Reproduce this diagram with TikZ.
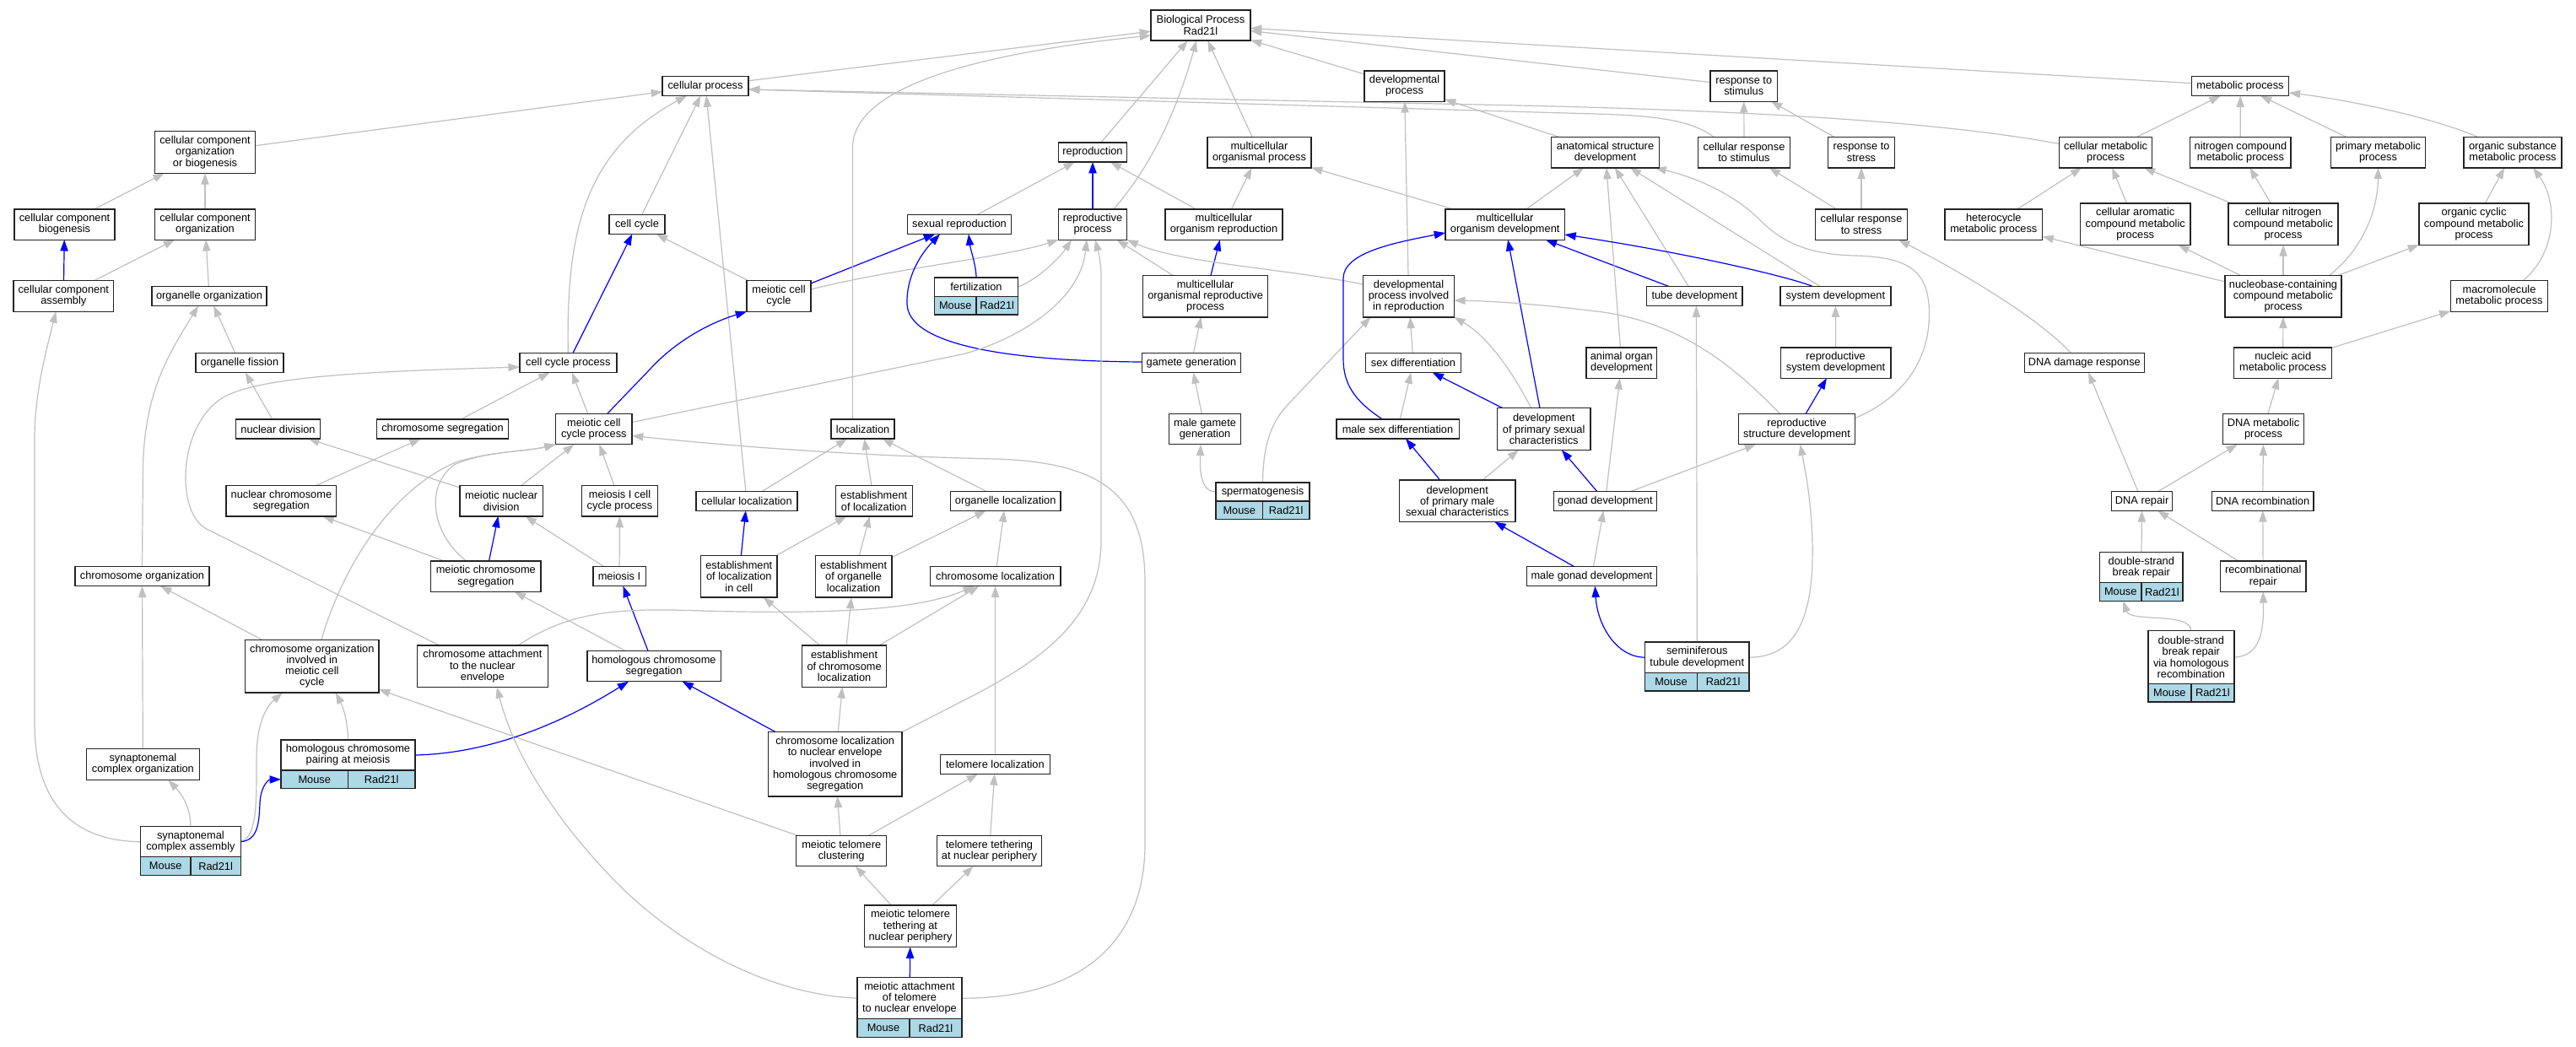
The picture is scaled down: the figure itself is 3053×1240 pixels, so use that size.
\documentclass[tikz,border=0pt]{standalone}
\usepackage{fontspec}
\setmainfont{Liberation Sans}
\usetikzlibrary{arrows.meta,backgrounds}
\definecolor{edgegray}{RGB}{192,192,192}
\definecolor{labblue}{RGB}{173,216,230}
\definecolor{bordc}{RGB}{35,35,35}
\tikzset{
  gobox/.style={draw=bordc, line width=1.4pt, fill=white, inner sep=0pt, outer sep=0pt, align=center, font=\fontsize{12.8}{13.3}\selectfont},
  labcell/.style={draw=bordc, line width=1.4pt, fill=labblue, inner sep=0pt, outer sep=0pt, minimum height=21.6pt, font=\fontsize{12.8}{13.3}\selectfont},
  isa/.style={draw=edgegray, line width=1.2pt, -{Triangle[length=13.3pt,width=9.3pt]}},
  partof/.style={draw=blue, line width=1.2pt, -{Triangle[length=13.3pt,width=9.3pt]}},
}
\newcommand{\GOn}[6]{\node[gobox, minimum width=#4pt, minimum height=#5pt] (#1) at (#2,#3) {#6};}
\newcommand{\GOlab}[2]{\node[labcell, anchor=north west, minimum width=#2pt] (#1M) at (#1.south west) {Mouse};\node[labcell, anchor=north east, minimum width=#2pt] (#1R) at (#1.south east) {Rad21l};}
\begin{document}
\begin{tikzpicture}[x=1pt,y=-1pt]
\useasboundingbox (0,0) rectangle (3053,1240);
\GOn{bp}{1423}{30}{118}{36}{Biological Process\\Rad21l}
\GOn{cp}{836}{102}{102}{23}{cellular process}
\GOn{dp}{1664.5}{102}{95}{36.4}{developmental\\process}
\GOn{rs}{2066.7}{102}{79.4}{36.4}{response to\\stimulus}
\GOn{mp}{2655}{102}{115.5}{23}{metabolic process}
\GOn{ccob}{243}{180.5}{118.5}{49.6}{cellular component\\organization\\or biogenesis}
\GOn{rep}{1295}{180.5}{81}{23}{reproduction}
\GOn{mop}{1492.5}{180.5}{123}{36.6}{multicellular\\organismal process}
\GOn{asd}{1902.5}{180.5}{127.7}{36.6}{anatomical structure\\development}
\GOn{crs}{2067}{180.5}{108.5}{36.6}{cellular response\\to stimulus}
\GOn{rstress}{2206}{180.5}{79}{36.6}{response to\\stress}
\GOn{cmp}{2495.6}{180.5}{110}{36.6}{cellular metabolic\\process}
\GOn{ncmp}{2655.4}{180.5}{119.3}{36.6}{nitrogen compound\\metabolic process}
\GOn{pmp}{2818.5}{180.5}{112.4}{36.6}{primary metabolic\\process}
\GOn{osmp}{2978}{180.5}{116}{36.6}{organic substance\\metabolic process}
\GOn{ccb}{76.5}{266}{119}{36.4}{cellular component\\biogenesis}
\GOn{cco}{243}{266}{118.5}{36.4}{cellular component\\organization}
\GOn{cc}{755}{266}{66}{23}{cell cycle}
\GOn{sr}{1137}{266}{123}{23}{sexual reproduction}
\GOn{rp}{1295}{266}{81}{36.4}{reproductive\\process}
\GOn{mor}{1450.5}{266}{139}{36.4}{multicellular\\organism reproduction}
\GOn{mod}{1783.7}{266}{141.4}{36.4}{multicellular\\organism development}
\GOn{crstress}{2206}{266}{108.5}{36.4}{cellular response\\to stress}
\GOn{het}{2362.8}{266}{115.4}{36.4}{heterocycle\\metabolic process}
\GOn{cacmp}{2530.7}{265.7}{130.2}{49.4}{cellular aromatic\\compound metabolic\\process}
\GOn{cncmp}{2706}{265.7}{130}{49.4}{cellular nitrogen\\compound metabolic\\process}
\GOn{occmp}{2932}{265.7}{130}{49.4}{organic cyclic\\compound metabolic\\process}
\GOn{cca}{75.3}{351}{118.6}{36.6}{cellular component\\assembly}
\GOn{oo}{248}{351}{136}{23}{organelle organization}
\GOn{mcc}{923}{351}{76}{36.6}{meiotic cell\\cycle}
\GOn{fert}{1157}{340.2}{99}{22.3}{fertilization}
\GOlab{fert}{49.5}
\GOn{morp}{1428.6}{351}{148}{49.6}{multicellular\\organismal reproductive\\process}
\GOn{dpir}{1669.5}{351}{107.5}{49.6}{developmental\\process involved\\in reproduction}
\GOn{td}{2008.4}{351}{113.4}{23}{tube development}
\GOn{sd}{2175.4}{351}{131.2}{23}{system development}
\GOn{nbcmp}{2706}{351}{138}{49.6}{nucleobase-containing\\compound metabolic\\process}
\GOn{mmp}{2962}{351}{115.4}{36.6}{macromolecule\\metabolic process}
\GOn{of}{284}{430}{104}{23}{organelle fission}
\GOn{ccp}{673.3}{430}{115}{23}{cell cycle process}
\GOn{gg}{1412}{430}{117}{23}{gamete generation}
\GOn{sexd}{1675}{430}{113}{23}{sex differentiation}
\GOn{aod}{1921.8}{430}{83.5}{36.4}{animal organ\\development}
\GOn{rsysd}{2175.6}{430}{130.6}{36.4}{reproductive\\system development}
\GOn{ddr}{2470.3}{430}{142}{23}{DNA damage response}
\GOn{nam}{2705.7}{430}{116}{36.4}{nucleic acid\\metabolic process}
\GOn{nd}{329.5}{508.5}{100.2}{23}{nuclear division}
\GOn{cs}{524.5}{508.5}{156.2}{23}{chromosome segregation}
\GOn{mccp}{703.8}{508.5}{90.4}{36.4}{meiotic cell\\cycle process}
\GOn{loc}{1022.6}{508.5}{75}{23}{localization}
\GOn{mgg}{1428}{508.5}{85.5}{36.4}{male gamete\\generation}
\GOn{msd}{1656.5}{508.5}{145.4}{23}{male sex differentiation}
\GOn{dpsc}{1829.7}{508.5}{110.5}{49.6}{development\\of primary sexual\\characteristics}
\GOn{rsd}{2129.5}{508.5}{138.5}{36.4}{reproductive\\structure development}
\GOn{dnamp}{2682.5}{508.5}{95.7}{36.4}{DNA metabolic\\process}
\GOn{ncs}{333.4}{593.8}{130.6}{36.3}{nuclear chromosome\\segregation}
\GOn{mnd}{594.2}{593.8}{98.3}{36.3}{meiotic nuclear\\division}
\GOn{m1ccp}{734.5}{593.8}{90}{36.3}{meiosis I cell\\cycle process}
\GOn{cl}{885}{593.8}{120}{23}{cellular localization}
\GOn{eol}{1035.7}{593.8}{91}{36.3}{establishment\\of localization}
\GOn{ol}{1191.7}{593.8}{130.6}{23}{organelle localization}
\GOn{sperm}{1496.5}{583}{111}{22}{spermatogenesis}
\GOlab{sperm}{55.5}
\GOn{dpmsc}{1727.2}{593.8}{137.5}{49.6}{development\\of primary male\\sexual characteristics}
\GOn{gd}{1902.4}{593.8}{122.3}{23}{gonad development}
\GOn{dnarep}{2538.6}{593.8}{72.2}{23}{DNA repair}
\GOn{dnarec}{2681.7}{593.8}{120.8}{23}{DNA recombination}
\GOn{co}{168.5}{683.2}{159}{23}{chromosome organization}
\GOn{mcs}{575.8}{683.2}{130.2}{36.3}{meiotic chromosome\\segregation}
\GOn{m1}{734}{683.2}{62.4}{23}{meiosis I}
\GOn{elc}{875.8}{683.3}{90.4}{49.3}{establishment\\of localization\\in cell}
\GOn{eorgl}{1011.6}{683.3}{90.8}{49.3}{establishment\\of organelle\\localization}
\GOn{chrl}{1179.6}{683.2}{154.7}{23}{chromosome localization}
\GOn{mgd}{1886.4}{683.2}{154.2}{23}{male gonad development}
\GOn{dsbr}{2537.8}{672.5}{98.2}{36.4}{double-strand\\break repair}
\GOlab{dsbr}{49.1}
\GOn{rr}{2682.2}{683.2}{101.2}{36.3}{recombinational\\repair}
\GOn{coimcc}{369.8}{789.7}{158.2}{62.7}{chromosome organization\\involved in\\meiotic cell\\cycle}
\GOn{cane}{571.9}{789.7}{154.7}{49.3}{chromosome attachment\\to the nuclear\\envelope}
\GOn{hcs}{775}{789.5}{158.4}{36.4}{homologous chromosome\\segregation}
\GOn{ecl}{1000.6}{789.7}{100.2}{49.3}{establishment\\of chromosome\\localization}
\GOn{std}{2011.3}{779.2}{123.3}{36.3}{seminiferous\\tubule development}
\GOlab{std}{61.65}
\GOn{dsbrhr}{2596.8}{779}{102}{62.6}{double-strand\\break repair\\via homologous\\recombination}
\GOlab{dsbrhr}{51}
\GOn{sco}{169.4}{906}{133.6}{36.6}{synaptonemal\\complex organization}
\GOn{hcpm}{412.5}{895}{159}{36}{homologous chromosome\\pairing at meiosis}
\GOlab{hcpm}{79.5}
\GOn{clne}{989.7}{905.8}{158.7}{76.3}{chromosome localization\\to nuclear envelope\\involved in\\homologous chromosome\\segregation}
\GOn{tl}{1179.4}{905.8}{129.6}{23}{telomere localization}
\GOn{sca}{225.9}{997.7}{118.8}{36}{synaptonemal\\complex assembly}
\GOlab{sca}{59.4}
\GOn{mtc}{997.2}{1008.5}{107}{36.4}{meiotic telomere\\clustering}
\GOn{ttnp}{1172.5}{1008.5}{123.8}{36.4}{telomere tethering\\at nuclear periphery}
\GOn{mttnp}{1079}{1097.8}{109.5}{49.7}{meiotic telomere\\tethering at\\nuclear periphery}
\GOn{matne}{1078}{1183.2}{124}{49}{meiotic attachment\\of telomere\\to nuclear envelope}
\GOlab{matne}{62}
\begin{scope}[on background layer]
\fill[white] (0,0) rectangle (3053,1240);
% straight edges
\draw[isa] (cp) -- (bp);
\draw[isa] (dp) -- (bp);
\draw[isa] (rs) -- (bp);
\draw[isa] (mp) -- (bp);
\draw[isa] (mop) -- (bp);
\draw[isa] (rep) -- (bp);
\draw[isa] (ccob) -- (cp);
\draw[isa] (cc) -- (cp);
\draw[isa] (cl) -- (cp);
\draw[isa] (ccb) -- (ccob);
\draw[isa] (cco) -- (ccob);
\draw[partof] (cca) -- (ccb);
\draw[isa] (cca) -- (cco);
\draw[isa] (oo) -- (cco);
\draw[isa] (of) -- (oo);
\draw[isa] (nd) -- (of);
\draw[isa] (mnd) -- (nd);
\draw[isa] (ncs) -- (cs);
\draw[isa] (cs) -- (ccp);
\draw[isa] (mccp) -- (ccp);
\draw[partof] (ccp) -- (cc);
\draw[isa] (mcc) -- (cc);
\draw[partof] (mcc) -- (sr);
\draw[isa] (mcs) -- (ncs);
\draw[partof] (mcs) -- (mnd);
\draw[isa] (m1) -- (mnd);
\draw[isa] (mnd) -- (mccp);
\draw[isa] (m1ccp) -- (mccp);
\draw[isa] (m1) -- (m1ccp);
\draw[partof] (hcs) -- (m1);
\draw[isa] (hcs) -- (mcs);
\draw[isa] (coimcc) -- (co);
\draw[isa] (sco) -- (co);
\draw[isa] (mtc) -- (coimcc);
\draw[partof] (clne) -- (hcs);
\draw[isa] (clne) -- (ecl);
\draw[isa] (ecl) -- (elc);
\draw[isa] (ecl) -- (eorgl);
\draw[isa] (ecl) -- (chrl);
\draw[isa] (tl) -- (chrl);
\draw[partof] (elc) -- (cl);
\draw[isa] (elc) -- (eol);
\draw[isa] (eorgl) -- (eol);
\draw[isa] (eorgl) -- (ol);
\draw[isa] (chrl) -- (ol);
\draw[isa] (cl) -- (loc);
\draw[isa] (eol) -- (loc);
\draw[isa] (ol) -- (loc);
\draw[isa] (mtc) -- (clne);
\draw[isa] (mtc) -- (tl);
\draw[isa] (ttnp) -- (tl);
\draw[isa] (mttnp) -- (mtc);
\draw[isa] (mttnp) -- (ttnp);
\draw[partof] (matne) -- (mttnp);
\draw[isa] (sr) -- (rep);
\draw[partof] (rp) -- (rep);
\draw[isa] (mor) -- (rep);
\draw[isa] (mor) -- (mop);
\draw[partof] (morp) -- (mor);
\draw[isa] (morp) -- (rp);
\draw[isa] (gg) -- (morp);
\draw[isa] (mgg) -- (gg);
\draw[isa] (dpir) -- (dp);
\draw[isa] (asd) -- (dp);
\draw[isa] (mod) -- (asd);
\draw[isa] (mod) -- (mop);
\draw[partof] (dpsc) -- (mod);
\draw[partof] (td) -- (mod);
\draw[isa] (td) -- (asd);
\draw[isa] (sd) -- (asd);
\draw[isa] (aod) -- (asd);
\draw[isa] (rsysd) -- (sd);
\draw[isa] (rstress) -- (rs);
\draw[isa] (crs) -- (rs);
\draw[isa] (crstress) -- (crs);
\draw[isa] (crstress) -- (rstress);
\draw[isa] (msd) -- (sexd);
\draw[partof] (dpsc) -- (sexd);
\draw[isa] (sexd) -- (dpir);
\draw[isa] (gd) -- (aod);
\draw[partof] (gd) -- (dpsc);
\draw[isa] (gd) -- (rsd);
\draw[partof] (mgd) -- (dpmsc);
\draw[isa] (mgd) -- (gd);
\draw[partof] (dpmsc) -- (msd);
\draw[isa] (dpmsc) -- (dpsc);
\draw[partof] (rsd) -- (rsysd);
\draw[isa] (cmp) -- (mp);
\draw[isa] (ncmp) -- (mp);
\draw[isa] (pmp) -- (mp);
\draw[isa] (het) -- (cmp);
\draw[isa] (cacmp) -- (cmp);
\draw[isa] (cncmp) -- (cmp);
\draw[isa] (cncmp) -- (ncmp);
\draw[isa] (occmp) -- (osmp);
\draw[isa] (nbcmp) -- (het);
\draw[isa] (nbcmp) -- (cacmp);
\draw[isa] (nbcmp) -- (cncmp);
\draw[isa] (nbcmp) -- (occmp);
\draw[isa] (nam) -- (nbcmp);
\draw[isa] (nam) -- (mmp);
\draw[isa] (dnamp) -- (nam);
\draw[isa] (dnarep) -- (dnamp);
\draw[isa] (dnarec) -- (dnamp);
\draw[isa] (dnarep) -- (ddr);
\draw[isa] (dsbr) -- (dnarep);
\draw[isa] (rr) -- (dnarep);
\draw[isa] (rr) -- (dnarec);
% curved edges
\draw[isa] ([xshift=-12pt]loc.north) -- (1010.5,175) .. controls (1010.5,100) and (1170,62) .. ([yshift=-12pt]bp.west);
\draw[isa] ([xshift=25pt]rp.north) .. controls (1370,190) and (1398,120) .. ([xshift=-5pt]bp.south);
\draw[isa] (ccp.north) .. controls (671,280) and (690,180) .. ([xshift=-22pt]cp.south);
\draw[isa] ([xshift=-36pt]crs.north) .. controls (2005,143) and (1965,137) .. (1890,135) -- ([yshift=-4pt]cp.east);
\draw[isa] ([yshift=10pt]cmp.west) .. controls (2330,150) and (2150,133) .. (1800,125) -- ([yshift=-4pt]cp.east);
\draw[isa] ([xshift=-51pt]cane.north) -- (245,627) .. controls (209,609) and (210,510) .. (260,474) .. controls (300,445) and (450,440) .. ([yshift=-5pt]ccp.west);
\draw[isa] ([yshift=8pt]mcc.east) .. controls (1060,318) and (1190,305) .. (rp.south west);
\draw[partof] ([yshift=1pt]gg.west) .. controls (1200,428) and (1076,410) .. (1075,360) .. controls (1074,320) and (1100,292) .. ([xshift=-23pt]sr.south);
\draw[partof] (fert.north) .. controls (1157,315) and (1150,295) .. ([xshift=11pt]sr.south);
\draw[isa] (fert.east) .. controls (1232,330) and (1256,305) .. ([xshift=-25pt]rp.south);
\draw[partof] ([xshift=16pt]mccp.north) -- (770,438) .. controls (800,405) and (840,383) .. (mcc.south west);
\draw[isa] ([yshift=8pt]mccp.east) -- (1140,420) .. controls (1200,405) and (1280,360) .. ([xshift=-7pt]rp.south);
\draw[isa] (clne.north east) -- (1160,821) .. controls (1240,778) and (1305,730) .. (1305,640) -- (1305,330) .. controls (1305,310) and (1302,300) .. ([xshift=3pt]rp.south);
\draw[isa] ([yshift=14pt]dpir.west) .. controls (1520,318) and (1400,312) .. (rp.south east);
\draw[isa] (sperm.west) .. controls (1422,583) and (1422,555) .. ([xshift=-5pt]mgg.south);
\draw[isa] (sperm.north) .. controls (1497,535) and (1503,505) .. (1525,481) -- ([xshift=-45pt]dpir.south);
\draw[isa] ([xshift=-15pt]dpsc.north) .. controls (1795,445) and (1765,400) .. (dpir.south east);
\draw[isa] ([xshift=-20pt]rsd.north) .. controls (2060,440) and (2000,385) .. (1900,370) .. controls (1820,360) and (1770,357) .. ([yshift=-5pt]dpir.east);
\draw[partof] ([xshift=-18pt]msd.north) .. controls (1605,475) and (1592,455) .. (1592,425) -- (1592,330) .. controls (1592,300) and (1650,288) .. ([yshift=-10pt]mod.west);
\draw[partof] ([xshift=-27pt]sd.north) .. controls (2120,328) and (2000,300) .. ([yshift=-12pt]mod.east);
\draw[isa] ([yshift=13pt]rsd.east) .. controls (2270,465) and (2290,410) .. (2286,360) .. controls (2282,320) and (2260,305) .. (2200,303) .. controls (2140,302) and (2110,285) .. (2085,260) .. controls (2060,235) and (2020,213) .. ([xshift=-5pt]asd.south east);
\draw[isa] ([xshift=-16pt]ddr.north) .. controls (2410,370) and (2300,310) .. ([xshift=44pt]crstress.south);
\draw[isa] ([xshift=-42pt]osmp.north) .. controls (2880,138) and (2780,118) .. ([yshift=-8pt]mp.east);
\draw[isa] ([xshift=55pt]nbcmp.north) .. controls (2800,295) and (2818,250) .. (pmp.south);
\draw[isa] ([xshift=28pt]mmp.north) .. controls (3030,300) and (3032,240) .. ([xshift=24pt]osmp.south);
\draw[isa] (dsbrhr.north) .. controls (2597,725) and (2525,738) .. ([xshift=3pt]dsbrM.south);
\draw[isa] (dsbrhr.east) .. controls (2680,778) and (2683,745) .. (rr.south);
\draw[partof] (std.west) .. controls (1915,779) and (1893,740) .. ([xshift=4pt]mgd.south);
\draw[isa] (std.north) -- ([xshift=2pt]td.south);
\draw[isa] (std.east) .. controls (2135,779) and (2150,720) .. (2148,640) .. controls (2146,590) and (2140,560) .. ([xshift=4pt]rsd.south);
\draw[isa] (sca.west) .. controls (90,997) and (42,955) .. (41,860) -- (41,520) .. controls (41,465) and (55,415) .. ([xshift=-9pt]cca.south);
\draw[isa] (co.north) -- (169.4,560) .. controls (170,465) and (200,420) .. ([xshift=-13pt]oo.south);
\draw[isa] (sca.north) .. controls (226,955) and (214,940) .. ([xshift=30pt]sco.south);
\draw[isa] (sca.east) .. controls (305,992) and (304,950) .. (304,900) .. controls (304,858) and (315,838) .. ([xshift=-35pt]coimcc.south);
\draw[partof] (sca.east) .. controls (306,996) and (307,975) .. (308,952) .. controls (309,932) and (318,924) .. (hcpmM.west);
\draw[isa] (hcpm.north) .. controls (412,850) and (405,835) .. ([xshift=28pt]coimcc.south);
\draw[partof] (hcpm.east) .. controls (580,893) and (665,858) .. ([xshift=-30pt]hcs.south);
\draw[isa] (matne.west) .. controls (900,1178) and (790,1110) .. (720,1035) .. controls (670,982) and (612,905) .. ([xshift=17pt]cane.south);
\draw[isa] (matne.east) .. controls (1300,1183) and (1357,1100) .. (1357,1000) -- (1357,690) .. controls (1357,590) and (1310,548) .. (1180,544) .. controls (1000,540) and (850,527) .. ([yshift=-8pt]mccp.east);
\draw[isa] ([xshift=11pt]coimcc.north) .. controls (410,660) and (470,578) .. (540,548) .. controls (580,535) and (625,535) .. (mccp.south west);
\draw[isa] ([xshift=-23pt]mcs.north) .. controls (508,630) and (505,572) .. (540,550) .. controls (575,535) and (625,535) .. (mccp.south west);
\draw[isa] ([xshift=42pt]cane.north) .. controls (670,728) and (720,722) .. (800,723) .. controls (950,728) and (1080,727) .. ([xshift=-25pt]chrl.south);
\end{scope}
\end{tikzpicture}
\end{document}
